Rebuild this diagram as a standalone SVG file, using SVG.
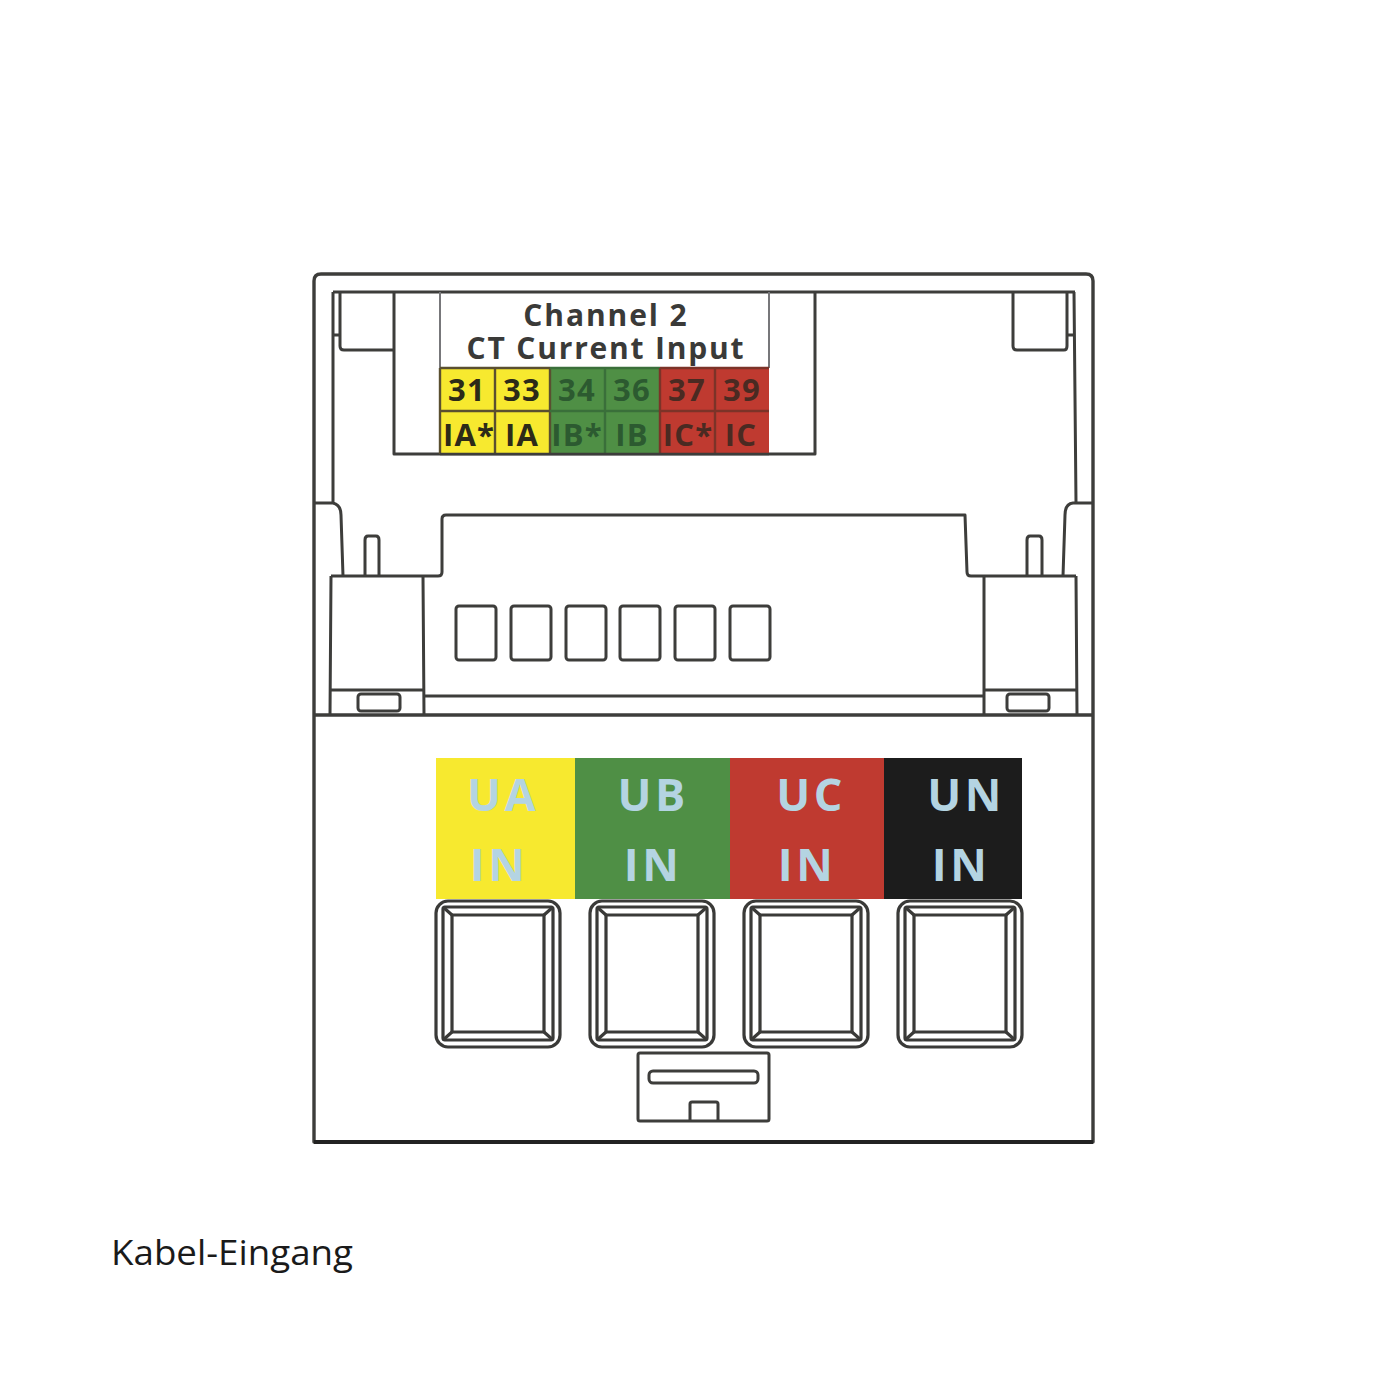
<svg xmlns="http://www.w3.org/2000/svg" width="1400" height="1400" viewBox="0 0 1400 1400">
<style>
.l{fill:none;stroke:#3d3d3b;stroke-width:3;stroke-linejoin:round}
.o{fill:none;stroke:#3d3d3b;stroke-width:3.4;stroke-linejoin:round}
.p{fill:none;stroke:#3a3a38;stroke-width:3.2;stroke-linejoin:round}
.h{font-family:"Open Sans","Noto Sans",sans-serif;font-weight:700;fill:#3a3a38;text-anchor:middle;font-size:30px}
.t{font-family:"Open Sans","Noto Sans",sans-serif;font-weight:700;font-size:31px;letter-spacing:1.2px;text-anchor:middle}
.y{fill:#2c2a18}.g{fill:#2c5a30}.r{fill:#4a2a22}
.u{font-family:"Open Sans","Noto Sans",sans-serif;font-weight:700;font-size:45px;fill:#b4d4e2;text-anchor:middle;letter-spacing:3.5px}
</style>
<defs>
<g id="port">
<rect x="0" y="0" width="124" height="146" rx="12" class="p"/>
<rect x="7" y="6" width="110" height="133" rx="2" class="p"/>
<rect x="16" y="14" width="92" height="117" class="p"/>
<path d="M7 6L16 14M117 6L108 14M7 139L16 131M117 139L108 131" class="p"/>
</g>
<rect id="sq" width="40" height="54" rx="3" class="l"/>
</defs>
<rect width="1400" height="1400" fill="#fff"/>
<g id="housing">
<path d="M314 1142V281Q314 274 321 274H1086Q1093 274 1093 281V1142Z" class="o"/>
<path d="M314 715H1093" class="o"/>
<path d="M314 1142H1093" fill="none" stroke="#222" stroke-width="3.8"/>
<path d="M333 292H1075" class="l" stroke-width="3"/>
<path d="M333 292V503H314M333 503Q341 505 341 515L343 576" class="l"/>
<path d="M1074 292L1076 503H1093M1076 503H1073Q1065 504 1065 515L1063 576" class="l"/>
<path d="M340 292V335M333 335H340V346Q340 350 344 350H394M394 292V454H815V292" class="l"/>
<path d="M1013 292V346Q1013 350 1017 350H1064Q1067 350 1067 346V292M1067 335H1074" class="l"/>
<path d="M331 576H438Q442 576 442 572V519Q442 515 446 515H965L967 572Q967 576 971 576H1076" class="l"/>
<path d="M365 576V540Q365 536 368 536H376Q379 536 379 540V576" class="l"/>
<path d="M1027 576V540Q1027 536 1030 536H1039Q1042 536 1042 540V576" class="l"/>
</g>
<g id="left-block">
<path d="M331 576L330 715M423 576L424 715M331 690H423" class="l"/>
<rect x="358" y="694" width="42" height="17" rx="3" class="l"/>
</g>
<g id="right-block">
<path d="M984 576V715M1076 576L1077 715M984 690H1076" class="l"/>
<rect x="1007" y="694" width="42" height="17" rx="3" class="l"/>
<path d="M424 696H984" class="l"/>
</g>
<g id="windows">
<use href="#sq" x="456" y="606"/>
<use href="#sq" x="511" y="606"/>
<use href="#sq" x="566" y="606"/>
<use href="#sq" x="620" y="606"/>
<use href="#sq" x="675" y="606"/>
<use href="#sq" x="730" y="606"/>
</g>
<g id="ct-panel">
<path d="M440 292V368M769 292V368" fill="none" stroke="#77777a" stroke-width="2"/>
<rect x="440" y="368" width="110" height="86" fill="#f7e92f"/>
<rect x="550" y="368" width="110" height="86" fill="#4f8f45"/>
<rect x="660" y="368" width="109" height="86" fill="#bf3a30"/>
<path d="M440 368H550M440 411H550M495 368V454M550 368V454M440 368V454" stroke="#5a4f30" stroke-width="2.4" fill="none"/>
<path d="M550 368H660M550 411H660M605 368V454" stroke="#3a6f3a" stroke-width="2.4" fill="none"/>
<path d="M660 368H769M660 411H769M660 368V454M715 368V454" stroke="#7c3328" stroke-width="2.4" fill="none"/>
<path d="M440 454H769" stroke="#3d3d3b" stroke-width="2.6"/>
<text class="h" x="606" y="326" letter-spacing="1.9">Channel 2</text>
<text class="h" x="606" y="359" letter-spacing="1.8">CT Current Input</text>
<text class="t y" x="467" y="401">31</text>
<text class="t y" x="522" y="401">33</text>
<text class="t g" x="577" y="401">34</text>
<text class="t g" x="632" y="401">36</text>
<text class="t r" x="687" y="401">37</text>
<text class="t r" x="742" y="401">39</text>
<text class="t y" x="469" y="446">IA*</text>
<text class="t y" x="522" y="446">IA</text>
<text class="t g" x="577" y="446">IB*</text>
<text class="t g" x="632" y="446">IB</text>
<text class="t r" x="688" y="446">IC*</text>
<text class="t r" x="741" y="446">IC</text>
</g>
<g id="voltage-labels">
<rect x="436" y="758" width="140" height="141" fill="#f7e92f"/>
<rect x="575" y="758" width="155" height="141" fill="#4f8f45"/>
<rect x="730" y="758" width="154" height="141" fill="#bf3a30"/>
<rect x="884" y="758" width="138" height="141" fill="#1c1c1c"/>
<text class="u" x="503" y="811">UA</text>
<text class="u" x="653" y="811">UB</text>
<text class="u" x="811" y="811">UC</text>
<text class="u" x="966" y="811">UN</text>
<text class="u" x="499" y="881">IN</text>
<text class="u" x="653" y="881">IN</text>
<text class="u" x="807" y="881">IN</text>
<text class="u" x="961" y="881">IN</text>
</g>
<g id="ports">
<use href="#port" x="436" y="901"/>
<use href="#port" x="590" y="901"/>
<use href="#port" x="744" y="901"/>
<use href="#port" x="898" y="901"/>
</g>
<g id="latch">
<rect x="638" y="1053" width="131" height="68" rx="2" class="l"/>
<rect x="649" y="1071" width="109" height="12" rx="4" class="l"/>
<path d="M690 1121V1104Q690 1102 692 1102H716Q718 1102 718 1104V1121" class="l"/>
</g>
<text id="caption" x="111" y="1265" font-family="'Open Sans','Noto Sans',sans-serif" font-size="35" fill="#1a1a1a" textLength="242" lengthAdjust="spacingAndGlyphs">Kabel-Eingang</text>
</svg>
